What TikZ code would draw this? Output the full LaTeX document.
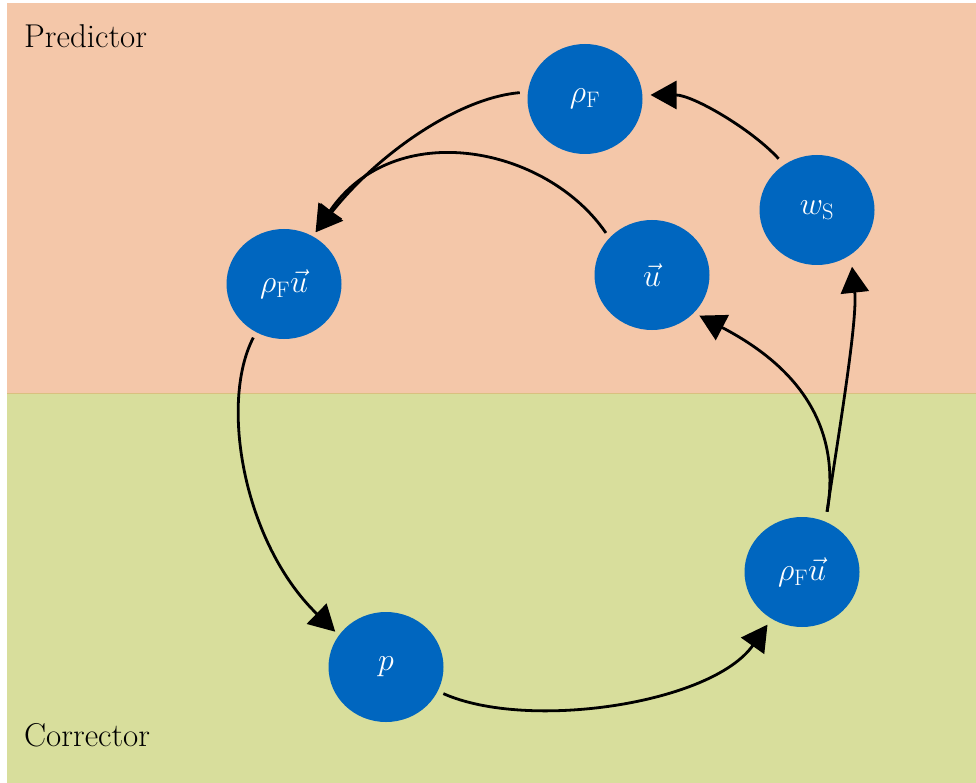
\RequirePackage{fix-cm}
\documentclass[tikz,border=0pt]{standalone}
\usepackage{tikz}
\usetikzlibrary{arrows.meta,shapes.geometric}
\definecolor{predbg}{HTML}{F4C7A9}
\definecolor{corrbg}{HTML}{D8DE9C}
\definecolor{edgeline}{HTML}{D9C07F}
\definecolor{varblue}{HTML}{0066BF}

\begin{document}
\begin{tikzpicture}[x=1pt,y=-1pt,
	var/.style={ellipse,fill=varblue,text=white,minimum width=115pt,minimum height=110pt,inner sep=0pt,font=\fontsize{32}{38}\selectfont},
	flow/.style={->,>={Triangle[length=26pt,width=28pt]},line width=2.8pt},
	zone/.style={anchor=base west,inner sep=0pt,font=\fontsize{33}{40}\selectfont}]
	\useasboundingbox (0,0) rectangle (976,783);
	\fill [predbg] (7,3) rectangle (976,393);
	\fill [corrbg] (7,393) rectangle (976,783);
	\draw [edgeline,line width=1pt] (7,393)--(976,393);
	\node [zone] (pr) at (24,48) {Predictor};
	\node [zone] (co) at (24,746) {Corrector};
	\node [var] (0) at (585,99) {$\rho_\mathrm{F}$};
	\node [var] (1) at (817,210) {$w_\mathrm{S}$};
	\node [var] (2) at (284,284) {$\rho_\mathrm{F}\vec{u}$};
	\node [var] (3) at (652,275) {$\vec{u}$};
	\node [var] (4) at (386,667) {$p$};
	\node [var] (5) at (802,572) {$\rho_\mathrm{F}\vec{u}$};
	% predictor
	\draw [flow,shorten <=8pt,shorten >=5pt] (0.173) .. controls +(-70,6) and +(65,-82) .. (2.59);
	\draw [flow,shorten <=6pt,shorten >=5pt] (3.139) .. controls +(-63,-92) and +(82,-120) .. (2.59);
	\draw [flow,shorten <=8pt,shorten >=8pt] (1.126) .. controls +(-33,-36) and +(50,0) .. (0.4);
	% corrector
	\draw [flow,shorten <=6pt,shorten >=5pt] (2.240) .. controls +(-37,71) and +(-95,-92) .. (4.146);
	\draw [flow,shorten <=6pt,shorten >=7pt] (4.335) .. controls +(90,40) and +(-60,85) .. (5.237);
	\draw [flow,shorten <=10pt,shorten >=6pt] (5.65) .. controls +(18,-107) and +(90,47) .. (3.318);
	\draw [flow,shorten <=10pt,shorten >=12pt] (5.65) .. controls +(13,-87) and +(7,65) .. (1.307);
\end{tikzpicture}
\end{document}
